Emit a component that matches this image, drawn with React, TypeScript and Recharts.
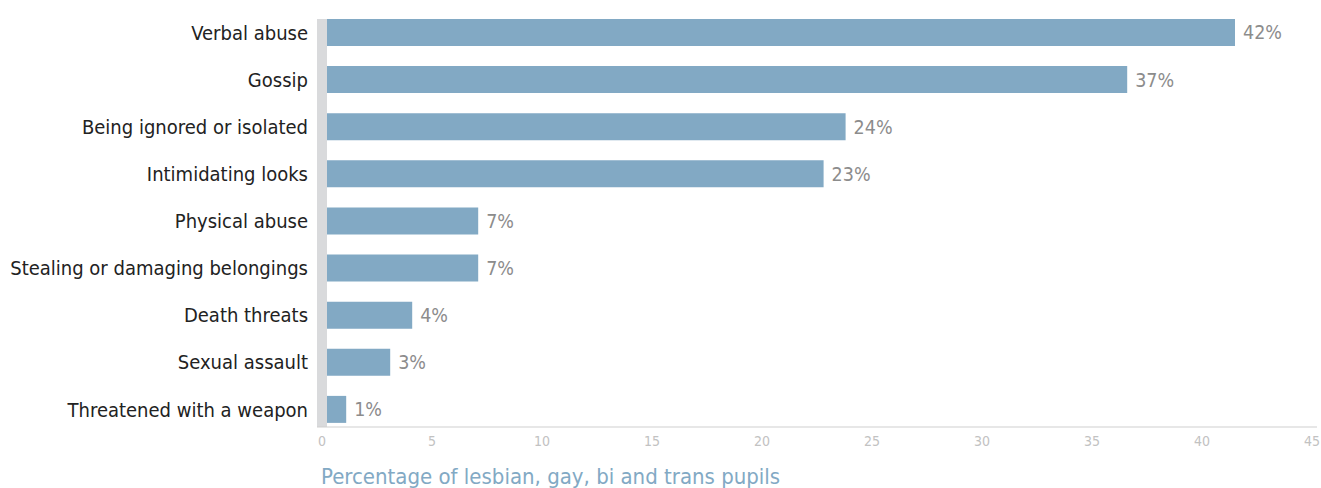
import { Bar, BarChart, LabelList, ReferenceLine, XAxis, YAxis } from 'recharts';

const categories = [
  'Verbal abuse',
  'Gossip',
  'Being ignored or isolated',
  'Intimidating looks',
  'Physical abuse',
  'Stealing or damaging belongings',
  'Death threats',
  'Sexual assault',
  'Threatened with a weapon',
];
const values = [41.5, 36.6, 23.8, 22.8, 7.1, 7.1, 4.1, 3.1, 1.1];
const xTicks = [0, 5, 10, 15, 20, 25, 30, 35, 40, 45];

const FONT = "'Liberation Sans Narrow', 'DejaVu Sans Condensed', sans-serif";

export default function App() {
  const data = categories.map((name, i) => ({ name, value: values[i] }));

  return (
    <div style={{ position: 'absolute', left: 0, top: 0, fontFamily: FONT }}>
      <BarChart
        width={1321}
        height={488}
        data={data}
        layout="vertical"
        margin={{ top: 19, right: 4, left: 0, bottom: 0 }}
        barCategoryGap={10}
      >
        <XAxis
          type="number"
          domain={[0, 45]}
          ticks={xTicks}
          padding={{ left: 5, right: 5 }}
          height={61}
          tickLine={false}
          tickSize={0}
          tickMargin={9}
          axisLine={{ stroke: '#cfcfcf' }}
          tick={{ fontSize: 14, fill: '#c2c2c2', fontFamily: FONT }}
          label={{
            value: 'Percentage of lesbian, gay, bi and trans pupils',
            position: 'insideBottomLeft',
            offset: 4,
            fill: '#82a9c4',
            fontSize: 22,
            fontFamily: FONT,
          }}
        />
        <YAxis
          type="category"
          dataKey="name"
          width={317}
          padding={{ top: -10, bottom: -6 }}
          axisLine={false}
          tickLine={false}
          tickSize={0}
          tickMargin={9}
          interval={0}
          tick={{ fontSize: 20, fill: '#222', fontFamily: FONT }}
        />
        <Bar dataKey="value" fill="#82a9c4" isAnimationActive={false}>
          <LabelList
            dataKey="value"
            position="right"
            offset={8}
            formatter={(v: number) => `${Math.round(v)}%`}
            style={{ fontSize: 19.5, fill: '#8c8c8c', fontFamily: FONT }}
          />
        </Bar>
        <ReferenceLine x={0} stroke="#d9dadc" strokeWidth={10} />
      </BarChart>
    </div>
  );
}
